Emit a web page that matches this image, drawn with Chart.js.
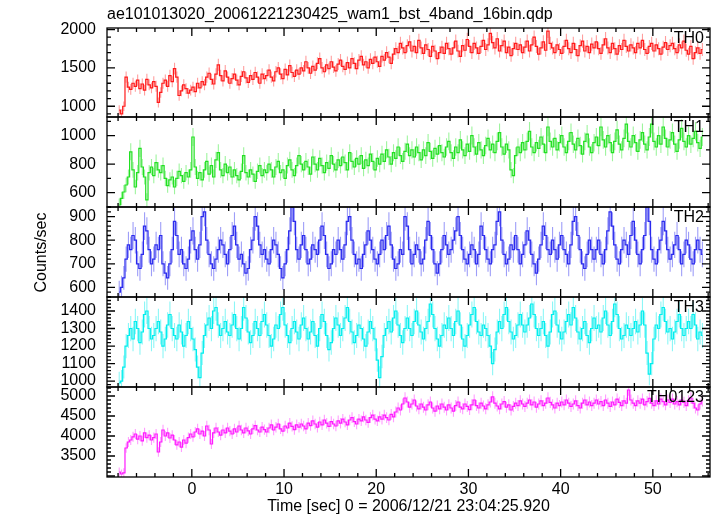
<!DOCTYPE html>
<html lang="en">
<head>
  <meta charset="UTF-8">
  <title>WAM light curve</title>
  <script src="https://cdn.jsdelivr.net/npm/chart.js"></script>
  <style>
    html, body { margin: 0; padding: 0; background: #fff; }
  </style>
</head>
<body>
  <canvas id="lc" width="717" height="516"></canvas>

  <script>
    const fileTitle = "ae101013020_20061221230425_wam1_bst_4band_16bin.qdp";
    const xTitle = "Time [sec] 0 = 2006/12/21 23:04:25.920";
    const yTitle = "Counts/sec";

    // 0.25 s bins, first bin centred at -7.875 s, 16 bins (4 s) per row
    const firstBin = -7.875;
    const binSize = 0.25;

    const th0 = [
      950, 900, 1000, 1380, 1250, 1220, 1300, 1260, 1340, 1230, 1290, 1210, 1350, 1280, 1240, 1320,
      1260, 1050, 1180, 1300, 1340, 1260, 1400, 1320, 1490, 1380, 1140, 1200, 1280, 1230, 1170, 1210,
      1250, 1190, 1300, 1240, 1320, 1280, 1380, 1430, 1350, 1290, 1420, 1540, 1400, 1330, 1460, 1380,
      1300, 1360, 1420, 1340, 1280, 1390, 1450, 1370, 1310, 1400, 1350, 1440, 1380, 1300, 1420, 1360,
      1400, 1470, 1380, 1330, 1450, 1500, 1420, 1360, 1480, 1410, 1530, 1440, 1390, 1470, 1420, 1500,
      1460, 1580, 1500, 1430, 1520, 1470, 1560, 1620, 1500, 1450, 1540, 1490, 1580, 1510, 1460, 1550,
      1600, 1520, 1480, 1570, 1500, 1620, 1560, 1490, 1600, 1650, 1540, 1580, 1500, 1610, 1560, 1640,
      1580, 1520, 1650, 1600, 1700, 1640, 1560, 1680, 1750, 1700, 1820, 1760, 1700, 1790, 1840, 1720,
      1780, 1700, 1860, 1760, 1690, 1800, 1740, 1650, 1780, 1720, 1620, 1700, 1770, 1690, 1820, 1750,
      1680, 1760, 1850, 1720, 1650, 1790, 1730, 1870, 1780, 1700, 1820, 1760, 1690, 1780, 1860, 1740,
      1800, 1950, 1830, 1760, 1880, 1720, 1790, 1850, 1700, 1770, 1660, 1750, 1820, 1740, 1800, 1700,
      1770, 1850, 1720, 1800, 1900, 1780, 1680, 1760, 1840, 1730, 1980, 1820, 1760, 1700, 1800, 1740,
      1690, 1780, 1860, 1750, 1700, 1820, 1740, 1660, 1790, 1850, 1720, 1780, 1700, 1810, 1760, 1840,
      1750, 1690, 1800, 1880, 1760, 1700, 1820, 1750, 1680, 1790, 1740, 1860, 1780, 1720, 1800, 1760,
      1700, 1820, 1760, 1860, 1740, 1690, 1780, 1820, 1720, 1800, 1750, 1680, 1770, 1830, 1740, 1790,
      1820, 1750, 1700, 1800, 1760, 1850, 1730, 1680, 1780, 1620, 1700, 1760, 1690, 1740
    ];
    const th1 = [
      514, 560, 605, 654, 710, 886, 760, 640, 740, 910, 780, 710, 550, 740, 780, 720,
      810, 760, 740, 790, 700, 650, 690, 710, 640, 700, 750, 720, 680, 740, 710, 760,
      990, 780, 700, 740, 690, 760, 820, 730, 790, 710, 830, 880, 760, 720, 800, 740,
      780, 710, 760, 720, 690, 750, 860, 740, 710, 760, 730, 680, 750, 790, 720, 760,
      740, 800, 760, 710, 780, 820, 740, 760, 700, 790, 830, 760, 720, 790, 860, 800,
      760, 820, 780, 730, 850, 800, 760, 840, 790, 740, 810, 770, 860, 800, 760, 830,
      790, 850, 810, 760, 880, 820, 780, 840, 800, 860, 770, 830, 790, 870, 820, 760,
      840, 800, 870, 820, 900, 850, 800, 880, 840, 920, 860, 820, 890, 940, 860, 900,
      850, 920, 880, 830, 900, 860, 950, 890, 840, 910, 870, 930, 880, 850, 920, 960,
      880, 840, 920, 880, 970, 900, 860, 940, 890, 1000, 920, 870, 950, 900, 860, 930,
      980, 900, 940, 880, 960, 1020, 920, 870, 940, 900, 760, 720, 860, 920, 880, 950,
      900, 960, 1030, 920, 880, 950, 910, 990, 940, 880, 1060, 960, 920, 980, 900, 950,
      1000, 920, 880, 960, 1020, 940, 900, 980, 930, 870, 960, 1010, 920, 880, 950, 990,
      930, 1060, 970, 920, 1000, 950, 880, 960, 1040, 940, 900, 980, 1080, 960, 920, 1000,
      950, 890, 970, 1020, 940, 900, 990, 1080, 960, 920, 1000, 940, 1060, 980, 920, 970,
      1020, 940, 890, 970, 1050, 960, 920, 1000, 940, 980, 1030, 950, 910, 990
    ];
    const th2 = [
      580, 600, 640, 720, 780, 760, 820, 800, 700, 680, 740, 860, 840, 760, 700, 720,
      780, 760, 820, 700, 660, 640, 700, 760, 880, 820, 740, 760, 700, 680, 720, 800,
      840, 760, 720, 780, 900, 920, 800, 740, 700, 680, 720, 760, 800, 780, 740, 700,
      760, 820, 860, 780, 720, 740, 700, 660, 680, 760, 800, 900, 860, 780, 740, 760,
      720, 700, 760, 800, 780, 740, 680, 640, 700, 760, 840, 940, 880, 760, 720, 780,
      820, 760, 700, 720, 780, 760, 740, 800, 860, 820, 740, 680, 700, 760, 740, 800,
      760, 720, 780, 880, 900, 800, 740, 700, 720, 680, 740, 780, 840, 800, 760, 720,
      700, 740, 800, 760, 820, 860, 780, 720, 680, 700, 760, 740, 900, 860, 760, 700,
      740, 780, 760, 700, 720, 800, 880, 820, 760, 700, 660, 700, 760, 820, 780, 740,
      760, 800, 840, 900, 820, 760, 720, 700, 740, 780, 760, 700, 740, 860, 820, 760,
      720, 700, 760, 780, 880, 920, 800, 740, 700, 720, 780, 760, 820, 760, 700, 740,
      780, 840, 800, 740, 700, 660, 720, 780, 860, 820, 760, 740, 800, 760, 720, 780,
      820, 760, 740, 700, 780, 880, 900, 820, 760, 700, 680, 740, 800, 760, 720, 760,
      800, 740, 700, 760, 840, 920, 860, 780, 720, 700, 760, 800, 780, 740, 820, 880,
      800, 740, 700, 760, 820, 940, 880, 760, 720, 700, 760, 800, 880, 840, 760, 720,
      740, 780, 820, 760, 700, 740, 800, 780, 720, 700, 760, 800, 760, 740
    ];
    const th3 = [
      990, 1000, 1080, 1200, 1260, 1300, 1240, 1340, 1300, 1220, 1280, 1380, 1400, 1300, 1240, 1260,
      1300, 1340, 1280, 1200, 1240, 1320, 1380, 1300, 1260, 1240, 1320, 1280, 1200, 1260, 1340, 1300,
      1240, 1180, 1080, 1020, 1160, 1260, 1320, 1360, 1300, 1400, 1420, 1320, 1260, 1300, 1340, 1280,
      1260, 1320, 1380, 1300, 1240, 1300, 1420, 1360, 1280, 1220, 1260, 1340, 1300, 1260, 1340, 1380,
      1320, 1260, 1200, 1240, 1320, 1300, 1380, 1420, 1320, 1260, 1220, 1300, 1340, 1280, 1240, 1320,
      1360, 1300, 1240, 1280, 1340, 1260, 1200, 1300, 1380, 1340, 1260, 1180, 1220, 1300, 1360, 1320,
      1260, 1300, 1360, 1420, 1340, 1280, 1220, 1260, 1320, 1300, 1240, 1200, 1280, 1340, 1300, 1240,
      1120, 1020, 1140, 1260, 1300, 1340, 1280, 1360, 1400, 1320, 1260, 1220, 1300, 1360, 1300, 1260,
      1340, 1400, 1320, 1280, 1240, 1300, 1340, 1440, 1380, 1300, 1240, 1200, 1260, 1320, 1300, 1360,
      1300, 1260, 1340, 1400, 1320, 1240, 1200, 1260, 1320, 1380, 1420, 1340, 1280, 1260, 1320, 1300,
      1260, 1200, 1100, 1180, 1280, 1340, 1300, 1380, 1420, 1340, 1280, 1240, 1260, 1320, 1380, 1320,
      1280, 1320, 1360, 1440, 1380, 1300, 1260, 1300, 1340, 1260, 1200, 1280, 1380, 1400, 1320, 1280,
      1240, 1280, 1340, 1380, 1320, 1420, 1360, 1280, 1240, 1300, 1340, 1260, 1220, 1300, 1360, 1300,
      1320, 1280, 1360, 1400, 1320, 1260, 1340, 1440, 1380, 1300, 1240, 1260, 1320, 1300, 1260, 1300,
      1340, 1280, 1320, 1400, 1320, 1160, 1040, 1100, 1240, 1320, 1300, 1380, 1420, 1340, 1280, 1300,
      1240, 1280, 1340, 1380, 1300, 1260, 1300, 1340, 1300, 1380, 1320, 1240, 1280, 1260
    ];
    const th0123 = [
      3100, 3050, 3080, 3700, 3850, 3900, 3980, 4050, 3920, 4000, 3880, 4080, 3960, 4020, 3900, 3960,
      4050, 3600, 3850, 4150, 4000, 4080, 3950, 4020, 3900, 3780, 3850, 3720, 3900, 3820, 3960, 4050,
      3980, 4100, 4180, 4050, 4120, 4000, 4250, 4150, 3800, 4080, 4200, 4100, 4020, 4150, 4080, 4200,
      4120, 4050, 4180, 4100, 4250, 4150, 4080, 4200, 4130, 4050, 4180, 4260, 4150, 4100, 4220, 4160,
      4100, 4200, 4280, 4150, 4220, 4300, 4180, 4120, 4250, 4200, 4320, 4240, 4160, 4280, 4220, 4300,
      4250, 4180, 4320, 4260, 4380, 4300, 4220, 4350, 4280, 4400, 4320, 4240, 4360, 4300, 4250, 4380,
      4320, 4420, 4350, 4280, 4400, 4460, 4360, 4300, 4420, 4380, 4480, 4400, 4340, 4460, 4520, 4420,
      4380, 4480, 4420, 4520, 4460, 4400, 4540, 4480, 4600, 4700, 4650, 4800, 4950, 4850, 4720, 4800,
      4900, 4750, 4680, 4800, 4720, 4650, 4780, 4850, 4700, 4620, 4750, 4680, 4800, 4720, 4650, 4780,
      4700, 4620, 4760, 4850, 4720, 4680, 4800, 4740, 4660, 4780, 4900, 4760, 4700, 4820, 4750, 4680,
      4780, 4850, 4980, 4820, 4750, 4680, 4800, 4860, 4720, 4780, 4650, 4740, 4820, 4760, 4880, 4800,
      4740, 4820, 4900, 4780, 4850, 4720, 4800, 4880, 4760, 4820, 4950, 4840, 4780, 4700, 4820, 4760,
      4850, 4780, 4900, 4820, 4740, 4800, 4880, 4760, 4700, 4820, 4900, 4780, 4850, 4760, 4820, 4900,
      4800, 4860, 4760, 4900, 4820, 4740, 4850, 4780, 4920, 4840, 4760, 4880, 4820, 5150, 4900, 4820,
      4760, 4880, 4820, 4920, 4780, 4860, 4940, 4820, 4760, 4880, 4800, 4920, 4860, 4780, 4900, 4840,
      4920, 4800, 4860, 4780, 4900, 4840, 4760, 4880, 4950, 4820, 4700, 4650, 4800, 4880
    ];

    const times = th0.map((v, i) => firstBin + i * binSize);

    // tick labels per panel
    const th0Ticks = [1000, 1500, 2000];
    const th1Ticks = [600, 800, 1000];
    const th2Ticks = [600, 700, 800, 900];
    const th3Ticks = [1000, 1100, 1200, 1300, 1400];
    const th0123Ticks = [3500, 4000, 4500, 5000];
    const timeTicks = [0, 10, 20, 30, 40, 50];

    const panels = [
      { name: "TH0",    values: th0,    ticks: th0Ticks,    color: "#ff1a1a", err: "rgba(255,40,40,0.45)",  min: 860,  max: 2020, major: 500, minor: 100, h: 89 },
      { name: "TH1",    values: th1,    ticks: th1Ticks,    color: "#22e022", err: "rgba(40,230,40,0.45)",  min: 500,  max: 1130, major: 200, minor: 100, h: 90 },
      { name: "TH2",    values: th2,    ticks: th2Ticks,    color: "#2a2aee", err: "rgba(40,40,240,0.45)",  min: 559,  max: 941,  major: 100, minor: 20,  h: 90 },
      { name: "TH3",    values: th3,    ticks: th3Ticks,    color: "#00eeee", err: "rgba(0,235,235,0.45)",  min: 966,  max: 1480, major: 100, minor: 20,  h: 90 },
      { name: "TH0123", values: th0123, ticks: th0123Ticks, color: "#ff1aff", err: "rgba(255,40,255,0.45)", min: 2975, max: 5225, major: 500, minor: 100, h: 90 }
    ];

    const font = { family: "'Liberation Sans', Arial, sans-serif", size: 16 };
    const fontCss = "16px 'Liberation Sans', Arial, sans-serif";

    const scales = {
      x: {
        type: "linear", position: "bottom", min: -9.2, max: 56.2,
        grid: { display: false, drawTicks: false }, border: { display: false },
        afterBuildTicks: s => { s.ticks = timeTicks.map(v => ({ value: v })); },
        ticks: { maxRotation: 0, autoSkip: false, color: "#000", font, padding: 3, callback: v => String(v) },
        afterFit: s => { s.height = 39; }
      }
    };
    panels.forEach((p, k) => {
      scales["y" + k] = {
        type: "linear", position: "left", stack: "lc", stackWeight: p.h, weight: 5 - k,
        min: p.min, max: p.max,
        grid: { display: false, drawTicks: false }, border: { display: false },
        afterBuildTicks: s => { s.ticks = p.ticks.map(v => ({ value: v })); },
        ticks: { autoSkip: false, color: "#000", font, padding: 11, callback: v => String(v) },
        afterFit: s => { s.width = 107; }
      };
    });

    const datasets = panels.map((p, k) => ({
      data: p.values.map((v, i) => ({ x: times[i], y: v })),
      xAxisID: "x",
      yAxisID: "y" + k,
      borderColor: p.color,
      borderWidth: 1.2,
      pointRadius: 0,
      stepped: "middle",
      fill: false
    }));

    function isMajor(v, step) {
      return Math.abs(v / step - Math.round(v / step)) < 1e-6;
    }

    const qdpPlugin = {
      id: "qdp",
      beforeDatasetsDraw(chart) {
        // Poisson error bars: sqrt(counts) / bin
        const ctx = chart.ctx, x = chart.scales.x;
        panels.forEach((p, k) => {
          const y = chart.scales["y" + k];
          ctx.save();
          ctx.beginPath();
          ctx.rect(x.left, y.top, x.right - x.left, y.bottom - y.top);
          ctx.clip();
          ctx.strokeStyle = p.err;
          ctx.lineWidth = 1.1;
          ctx.beginPath();
          p.values.forEach((v, i) => {
            const e = Math.sqrt(v / binSize);
            const px = x.getPixelForValue(times[i]);
            ctx.moveTo(px, y.getPixelForValue(v - e));
            ctx.lineTo(px, y.getPixelForValue(v + e));
          });
          ctx.stroke();
          ctx.restore();
        });
      },
      afterDatasetsDraw(chart) {
        const ctx = chart.ctx, x = chart.scales.x;
        ctx.save();
        ctx.strokeStyle = "#000";
        ctx.lineWidth = 1.3;
        panels.forEach((p, k) => {
          const y = chart.scales["y" + k];
          const L = x.left, R = x.right, T = y.top, B = y.bottom;
          ctx.strokeRect(L, T, R - L, B - T);
          ctx.beginPath();
          for (let v = Math.ceil(p.min / p.minor) * p.minor; v <= p.max; v += p.minor) {
            const py = y.getPixelForValue(v);
            const len = isMajor(v, p.major) ? 8 : 4;
            ctx.moveTo(L, py); ctx.lineTo(L + len, py);
            ctx.moveTo(R, py); ctx.lineTo(R - len, py);
          }
          for (let t = Math.ceil(x.min / 2) * 2; t <= x.max; t += 2) {
            const px = x.getPixelForValue(t);
            const len = isMajor(t, 10) ? 8 : 4;
            ctx.moveTo(px, T); ctx.lineTo(px, T + len);
            ctx.moveTo(px, B); ctx.lineTo(px, B - len);
          }
          ctx.stroke();
        });
        ctx.restore();
      },
      afterDraw(chart) {
        const ctx = chart.ctx, x = chart.scales.x;
        ctx.save();
        ctx.fillStyle = "#000";
        ctx.font = fontCss;
        ctx.textAlign = "left";
        ctx.textBaseline = "alphabetic";
        ctx.fillText(fileTitle, x.left, 19);

        ctx.textAlign = "right";
        ctx.textBaseline = "top";
        panels.forEach((p, k) => {
          const y = chart.scales["y" + k];
          ctx.fillText(p.name, x.right - 6, y.top + 3);
        });

        ctx.textAlign = "center";
        ctx.textBaseline = "middle";
        ctx.fillText(xTitle, (x.left + x.right) / 2, 507);

        const top = chart.scales.y0.top, bottom = chart.scales.y4.bottom;
        ctx.translate(42, (top + bottom) / 2);
        ctx.rotate(-Math.PI / 2);
        ctx.fillText(yTitle, 0, 0);
        ctx.restore();
      }
    };

    new Chart(document.getElementById("lc"), {
      type: "line",
      data: { datasets },
      options: {
        responsive: false,
        animation: false,
        layout: { padding: { top: 28, right: 7, left: 0, bottom: 0 } },
        scales,
        plugins: { legend: { display: false }, tooltip: { enabled: false } }
      },
      plugins: [qdpPlugin]
    });
  </script>
</body>
</html>
